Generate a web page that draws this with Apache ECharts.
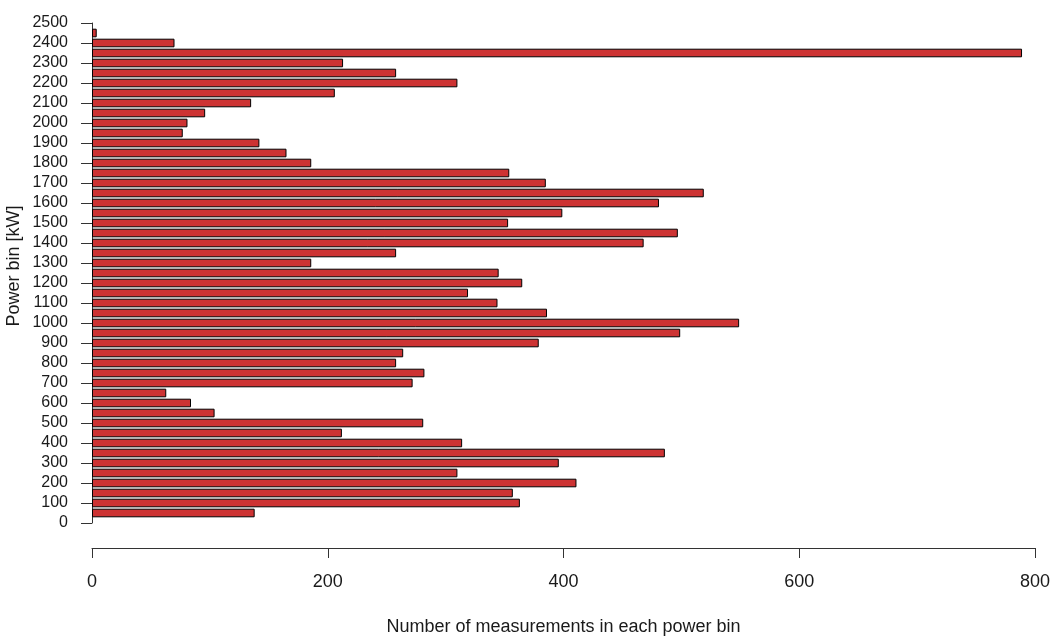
<!DOCTYPE html>
<html>
<head>
<meta charset="utf-8">
<script src="https://cdn.jsdelivr.net/npm/echarts@6/dist/echarts.min.js"></script>
<style>
html,body{margin:0;padding:0;background:#fff;}
#chart{width:1055px;height:644px;}
</style>
</head>
<body>
<div id="chart"></div>
<script>
// Power bin centres (kW), bottom to top
var powerBins = [50,100,150,200,250,300,350,400,450,500,550,600,650,700,750,800,850,900,950,1000,
  1050,1100,1150,1200,1250,1300,1350,1400,1450,1500,1550,1600,1650,1700,1750,1800,1850,1900,1950,2000,
  2050,2100,2150,2200,2250,2300,2350,2400,2450];
// Number of measurements in each bin
var counts = [138,363,357,411,310,396,486,314,212,281,104,84,63,272,282,258,264,379,499,549,
  386,344,319,365,345,186,258,468,497,353,399,481,519,385,354,186,165,142,77,81,
  96,135,206,310,258,213,789,70,4];
var axisStart = '0', axisEnd = '2500';
var xTicks = [0,200,400,600,800];

var cats = [axisStart].concat(powerBins.map(String)).concat([axisEnd]);
var barData = [null].concat(counts).concat([null]);

var font = 'Liberation Sans, Arial, sans-serif';
var chart = echarts.init(document.getElementById('chart'), null, {renderer:'canvas'});
chart.setOption({
  animation: false,
  backgroundColor: '#ffffff',
  grid: {left: 92, right: 20, top: 23, bottom: 121, containLabel: false},
  xAxis: {
    type: 'value',
    min: xTicks[0], max: xTicks[xTicks.length-1], interval: 200,
    offset: 25,
    name: 'Number of measurements in each power bin',
    nameLocation: 'middle',
    nameGap: 79,
    nameTextStyle: {fontFamily: font, fontSize: 18, color: '#1a1a1a', verticalAlign: 'middle'},
    axisLine: {show: true, lineStyle: {color: '#333', width: 1}},
    axisTick: {show: true, length: 10, lineStyle: {color: '#333', width: 1}},
    axisLabel: {fontFamily: font, fontSize: 18, color: '#1a1a1a', margin: 25},
    splitLine: {show: false}
  },
  yAxis: {
    type: 'category',
    data: cats,
    boundaryGap: false,
    axisLine: {show: true, lineStyle: {color: '#333', width: 1}},
    axisTick: {show: true, length: 11, interval: 1, lineStyle: {color: '#333', width: 1}},
    axisLabel: {fontFamily: font, fontSize: 16, color: '#1a1a1a', margin: 24, interval: 1},
    splitLine: {show: false}
  },
  graphic: [{
    type: 'text',
    x: 14, y: 266,
    rotation: Math.PI/2,
    style: {text: 'Power bin [kW]', font: '18px ' + font, fill: '#1a1a1a', align: 'center', verticalAlign: 'middle'}
  }],
  series: [{
    type: 'bar',
    data: barData,
    barWidth: 8.6,
    itemStyle: {color: '#CD3333', borderColor: '#000', borderWidth: 1}
  }]
});
</script>
</body>
</html>
